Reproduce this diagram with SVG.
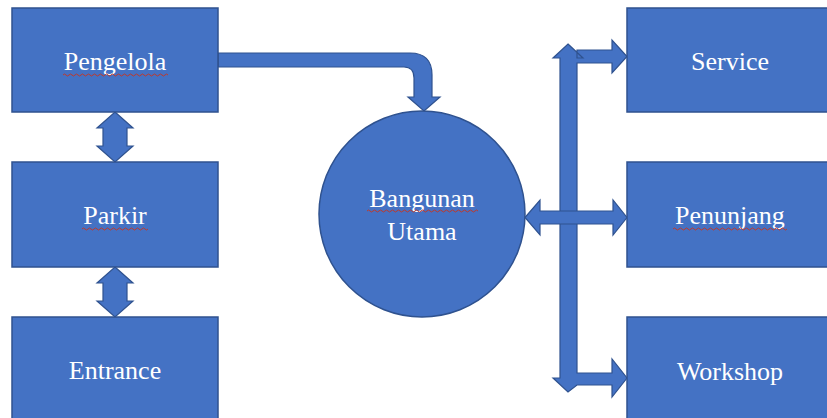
<svg xmlns="http://www.w3.org/2000/svg" width="827" height="418" viewBox="0 0 827 418">
<defs>
<style>
.box{fill:#4472C4;stroke:#2F528F;stroke-width:1.5}
.arr{fill:#4472C4;stroke:#2F528F;stroke-width:1.2;stroke-linejoin:miter}
.lbl{font-family:"Liberation Serif","Times New Roman",serif;font-size:26px;fill:#FFFFFF;text-anchor:middle}
.sq{fill:none;stroke:#C0392B;stroke-width:1}
</style>
</defs>
<rect width="827" height="418" fill="#FFFFFF"/>
<g id="connectors">
<path class="arr" d="M218,53 H410 Q432,53 432,75 V97 H440 L424,111 L408,97 H414 V78 Q414,67 404,67 H218 Z"/>
<path class="arr" d="M115,112 L133,128 H127 V146 H133 L115,162 L97,146 H103 V128 H97 Z"/>
<path class="arr" d="M115,267 L133,283 H127 V301 H133 L115,317 L97,301 H103 V283 H97 Z"/>
<path class="arr" d="M568,44 L583,58 H577 V50 H612 V40 L627,56.5 L612,73 V63 H577 V373 H612 V359 L627,378 L612,397 V385 H577 L568,392 L553,378 H560 V58 H553 Z"/>
<path class="arr" d="M525,217.5 L540,200 V211 H613 V200 L627,217.5 L613,235 V224 H540 V235 Z"/>
</g>
<g id="pengelola">
<rect class="box" x="12" y="8" width="206" height="104"/>
<text class="lbl" x="115" y="70">Pengelola</text>
<path class="sq" d="M63,75 q1.5,-2 3,0 t3,0 t3,0 t3,0 t3,0 t3,0 t3,0 t3,0 t3,0 t3,0 t3,0 t3,0 t3,0 t3,0 t3,0 t3,0 t3,0 t3,0 t3,0 t3,0 t3,0 t3,0 t3,0 t3,0 t3,0 t3,0 t3,0 t3,0 t3,0 t3,0 t3,0 t3,0 t3,0 t3,0 t3,0"/>
</g>
<g id="parkir">
<rect class="box" x="12" y="162" width="206" height="105"/>
<text class="lbl" x="115" y="224">Parkir</text>
<path class="sq" d="M82,229 q1.5,-2 3,0 t3,0 t3,0 t3,0 t3,0 t3,0 t3,0 t3,0 t3,0 t3,0 t3,0 t3,0 t3,0 t3,0 t3,0 t3,0 t3,0 t3,0 t3,0 t3,0 t3,0 t3,0"/>
</g>
<g id="entrance">
<rect class="box" x="12" y="317" width="206" height="110"/>
<text class="lbl" x="115" y="379">Entrance</text>
</g>
<g id="bangunan-utama">
<circle class="box" cx="422" cy="214" r="103"/>
<text class="lbl" x="422" y="207">Bangunan</text>
<text class="lbl" x="422" y="240">Utama</text>
<path class="sq" d="M367,211 q1.5,-2 3,0 t3,0 t3,0 t3,0 t3,0 t3,0 t3,0 t3,0 t3,0 t3,0 t3,0 t3,0 t3,0 t3,0 t3,0 t3,0 t3,0 t3,0 t3,0 t3,0 t3,0 t3,0 t3,0 t3,0 t3,0 t3,0 t3,0 t3,0 t3,0 t3,0 t3,0 t3,0 t3,0 t3,0 t3,0 t3,0 t3,0"/>
</g>
<g id="service">
<rect class="box" x="627" y="8" width="210" height="104"/>
<text class="lbl" x="730" y="70">Service</text>
</g>
<g id="penunjang">
<rect class="box" x="627" y="162" width="210" height="105"/>
<text class="lbl" x="730" y="224">Penunjang</text>
<path class="sq" d="M673,229 q1.5,-2 3,0 t3,0 t3,0 t3,0 t3,0 t3,0 t3,0 t3,0 t3,0 t3,0 t3,0 t3,0 t3,0 t3,0 t3,0 t3,0 t3,0 t3,0 t3,0 t3,0 t3,0 t3,0 t3,0 t3,0 t3,0 t3,0 t3,0 t3,0 t3,0 t3,0 t3,0 t3,0 t3,0 t3,0 t3,0 t3,0 t3,0 t3,0"/>
</g>
<g id="workshop">
<rect class="box" x="627" y="317" width="210" height="110"/>
<text class="lbl" x="730" y="380">Workshop</text>
</g>
</svg>
